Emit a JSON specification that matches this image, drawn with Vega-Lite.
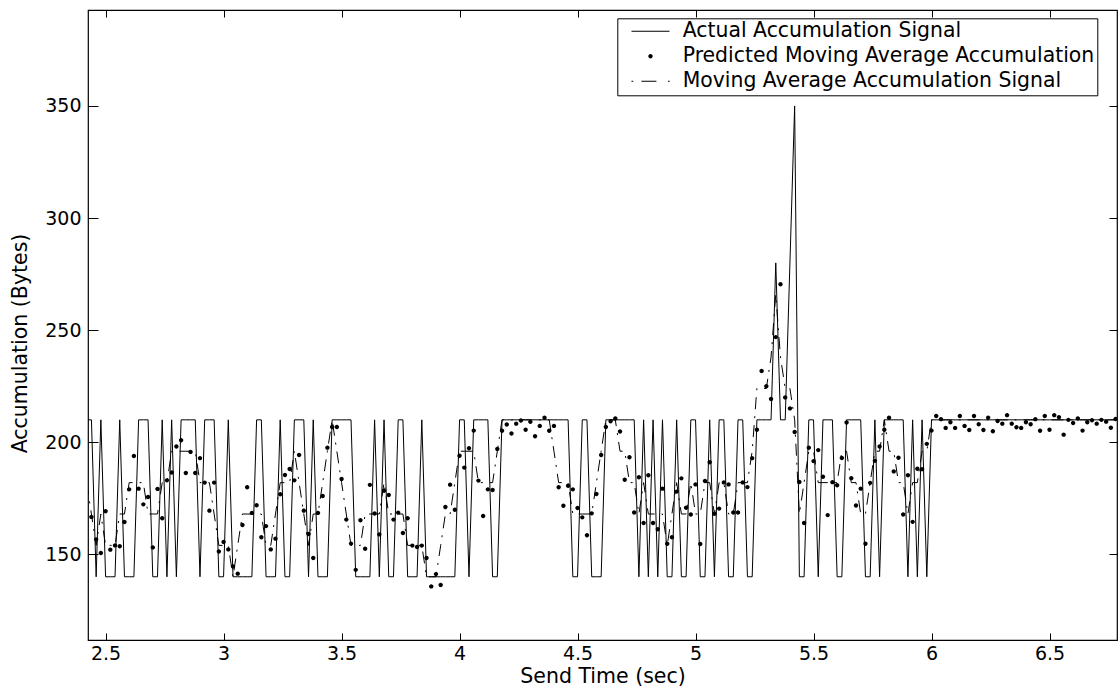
{
"$schema": "https://vega.github.io/schema/vega-lite/v6.json",
"width": 1029,
"height": 630,
"autosize": {"type": "none"},
"padding": {"left": 88, "top": 10, "right": 1, "bottom": 51},
"background": "white",
"config": {
  "view": {"stroke": "black", "strokeWidth": 1.2},
  "font": "DejaVu Sans",
  "axis": {"grid": false, "domain": false, "tickColor": "black", "tickWidth": 1, "labelColor": "black", "titleColor": "black", "labelFont": "DejaVu Sans", "titleFont": "DejaVu Sans", "labelFontSize": 19, "titleFontSize": 20.5, "titleFontWeight": "normal"}
},
"datasets": {
"actual": [
{"t":2.42,"v":210},{"t":2.44,"v":210},{"t":2.46,"v":140},{"t":2.48,"v":210},{"t":2.50,"v":140},{"t":2.52,"v":140},{"t":2.54,"v":140},{"t":2.56,"v":210},{"t":2.58,"v":140},{"t":2.60,"v":140},
{"t":2.62,"v":140},{"t":2.64,"v":210},{"t":2.66,"v":210},{"t":2.68,"v":210},{"t":2.70,"v":140},{"t":2.72,"v":140},{"t":2.74,"v":210},{"t":2.76,"v":140},{"t":2.78,"v":210},{"t":2.80,"v":140},
{"t":2.82,"v":210},{"t":2.84,"v":210},{"t":2.86,"v":210},{"t":2.88,"v":210},{"t":2.90,"v":140},{"t":2.92,"v":210},{"t":2.94,"v":210},{"t":2.96,"v":210},{"t":2.98,"v":140},{"t":3.00,"v":140},
{"t":3.02,"v":210},{"t":3.04,"v":140},{"t":3.06,"v":140},{"t":3.08,"v":140},{"t":3.10,"v":140},{"t":3.12,"v":140},{"t":3.14,"v":210},{"t":3.16,"v":210},{"t":3.18,"v":140},{"t":3.20,"v":140},
{"t":3.22,"v":140},{"t":3.24,"v":210},{"t":3.26,"v":140},{"t":3.28,"v":140},{"t":3.30,"v":210},{"t":3.32,"v":210},{"t":3.34,"v":210},{"t":3.36,"v":140},{"t":3.38,"v":210},{"t":3.40,"v":140},
{"t":3.42,"v":140},{"t":3.44,"v":140},{"t":3.46,"v":210},{"t":3.48,"v":210},{"t":3.50,"v":210},{"t":3.52,"v":210},{"t":3.54,"v":210},{"t":3.56,"v":140},{"t":3.58,"v":140},{"t":3.60,"v":140},
{"t":3.62,"v":140},{"t":3.64,"v":210},{"t":3.66,"v":140},{"t":3.68,"v":210},{"t":3.70,"v":140},{"t":3.72,"v":140},{"t":3.74,"v":210},{"t":3.76,"v":210},{"t":3.78,"v":140},{"t":3.80,"v":140},
{"t":3.82,"v":140},{"t":3.84,"v":210},{"t":3.86,"v":140},{"t":3.88,"v":140},{"t":3.90,"v":140},{"t":3.92,"v":140},{"t":3.94,"v":140},{"t":3.96,"v":140},{"t":3.98,"v":140},{"t":4.00,"v":210},
{"t":4.02,"v":210},{"t":4.04,"v":140},{"t":4.06,"v":210},{"t":4.08,"v":210},{"t":4.10,"v":210},{"t":4.12,"v":210},{"t":4.14,"v":140},{"t":4.16,"v":140},{"t":4.18,"v":210},{"t":4.20,"v":210},
{"t":4.22,"v":210},{"t":4.24,"v":210},{"t":4.26,"v":210},{"t":4.28,"v":210},{"t":4.30,"v":210},{"t":4.32,"v":210},{"t":4.34,"v":210},{"t":4.36,"v":210},{"t":4.38,"v":210},{"t":4.40,"v":210},
{"t":4.42,"v":210},{"t":4.44,"v":210},{"t":4.46,"v":210},{"t":4.48,"v":140},{"t":4.50,"v":140},{"t":4.52,"v":210},{"t":4.54,"v":210},{"t":4.56,"v":140},{"t":4.58,"v":140},{"t":4.60,"v":140},
{"t":4.62,"v":210},{"t":4.64,"v":210},{"t":4.66,"v":210},{"t":4.68,"v":210},{"t":4.70,"v":210},{"t":4.72,"v":210},{"t":4.74,"v":210},{"t":4.76,"v":140},{"t":4.78,"v":210},{"t":4.80,"v":140},
{"t":4.82,"v":210},{"t":4.84,"v":140},{"t":4.86,"v":210},{"t":4.88,"v":140},{"t":4.90,"v":140},{"t":4.92,"v":210},{"t":4.94,"v":140},{"t":4.96,"v":140},{"t":4.98,"v":210},{"t":5.00,"v":210},
{"t":5.02,"v":140},{"t":5.04,"v":140},{"t":5.06,"v":210},{"t":5.08,"v":140},{"t":5.10,"v":210},{"t":5.12,"v":210},{"t":5.14,"v":140},{"t":5.16,"v":140},{"t":5.18,"v":210},{"t":5.20,"v":210},
{"t":5.22,"v":140},{"t":5.24,"v":140},{"t":5.26,"v":210},{"t":5.28,"v":210},{"t":5.30,"v":210},{"t":5.32,"v":210},{"t":5.34,"v":280},{"t":5.36,"v":210},{"t":5.38,"v":210},{"t":5.40,"v":280},
{"t":5.42,"v":350},{"t":5.44,"v":140},{"t":5.46,"v":140},{"t":5.48,"v":210},{"t":5.50,"v":210},{"t":5.52,"v":140},{"t":5.54,"v":210},{"t":5.56,"v":210},{"t":5.58,"v":210},{"t":5.60,"v":140},
{"t":5.62,"v":140},{"t":5.64,"v":210},{"t":5.66,"v":210},{"t":5.68,"v":210},{"t":5.70,"v":210},{"t":5.72,"v":140},{"t":5.74,"v":140},{"t":5.76,"v":210},{"t":5.78,"v":140},{"t":5.80,"v":210},
{"t":5.82,"v":210},{"t":5.84,"v":210},{"t":5.86,"v":210},{"t":5.88,"v":210},{"t":5.90,"v":140},{"t":5.92,"v":210},{"t":5.94,"v":140},{"t":5.96,"v":210},{"t":5.98,"v":140},{"t":6.00,"v":210},
{"t":6.02,"v":210},{"t":6.04,"v":210},{"t":6.06,"v":210},{"t":6.08,"v":210},{"t":6.10,"v":210},{"t":6.12,"v":210},{"t":6.14,"v":210},{"t":6.16,"v":210},{"t":6.18,"v":210},{"t":6.20,"v":210},
{"t":6.22,"v":210},{"t":6.24,"v":210},{"t":6.26,"v":210},{"t":6.28,"v":210},{"t":6.30,"v":210},{"t":6.32,"v":210},{"t":6.34,"v":210},{"t":6.36,"v":210},{"t":6.38,"v":210},{"t":6.40,"v":210},
{"t":6.42,"v":210},{"t":6.44,"v":210},{"t":6.46,"v":210},{"t":6.48,"v":210},{"t":6.50,"v":210},{"t":6.52,"v":210},{"t":6.54,"v":210},{"t":6.56,"v":210},{"t":6.58,"v":210},{"t":6.60,"v":210},
{"t":6.62,"v":210},{"t":6.64,"v":210},{"t":6.66,"v":210},{"t":6.68,"v":210},{"t":6.70,"v":210},{"t":6.72,"v":210},{"t":6.74,"v":210},{"t":6.76,"v":210},{"t":6.78,"v":210},{"t":6.80,"v":210}
],
"predicted": [
{"s":"P","t":2.44,"v":166.7},{"s":"P","t":2.46,"v":156.7},{"s":"P","t":2.48,"v":150.6},{"s":"P","t":2.50,"v":169.2},{"s":"P","t":2.52,"v":152.1},{"s":"P","t":2.54,"v":154.0},{"s":"P","t":2.56,"v":153.6},{"s":"P","t":2.58,"v":164.4},{"s":"P","t":2.60,"v":179.0},{"s":"P","t":2.62,"v":193.9},
{"s":"P","t":2.64,"v":179.3},{"s":"P","t":2.66,"v":172.3},{"s":"P","t":2.68,"v":175.6},{"s":"P","t":2.70,"v":153.1},{"s":"P","t":2.72,"v":179.2},{"s":"P","t":2.74,"v":166.1},{"s":"P","t":2.76,"v":183.0},{"s":"P","t":2.78,"v":186.5},{"s":"P","t":2.80,"v":198.1},{"s":"P","t":2.82,"v":200.9},
{"s":"P","t":2.84,"v":186.3},{"s":"P","t":2.86,"v":195.7},{"s":"P","t":2.88,"v":186.3},{"s":"P","t":2.90,"v":192.9},{"s":"P","t":2.92,"v":182.0},{"s":"P","t":2.94,"v":169.5},{"s":"P","t":2.96,"v":182.0},{"s":"P","t":2.98,"v":151.3},{"s":"P","t":3.00,"v":155.5},{"s":"P","t":3.02,"v":152.2},
{"s":"P","t":3.04,"v":144.6},{"s":"P","t":3.06,"v":141.4},{"s":"P","t":3.08,"v":163.1},{"s":"P","t":3.10,"v":179.9},{"s":"P","t":3.12,"v":168.5},{"s":"P","t":3.14,"v":171.9},{"s":"P","t":3.16,"v":157.6},{"s":"P","t":3.18,"v":162.6},{"s":"P","t":3.20,"v":152.2},{"s":"P","t":3.22,"v":157.0},
{"s":"P","t":3.24,"v":176.8},{"s":"P","t":3.26,"v":185.4},{"s":"P","t":3.28,"v":188.1},{"s":"P","t":3.30,"v":183.0},{"s":"P","t":3.32,"v":194.3},{"s":"P","t":3.34,"v":169.5},{"s":"P","t":3.36,"v":159.1},{"s":"P","t":3.38,"v":148.4},{"s":"P","t":3.40,"v":168.5},{"s":"P","t":3.42,"v":176.0},
{"s":"P","t":3.44,"v":197.6},{"s":"P","t":3.46,"v":206.8},{"s":"P","t":3.48,"v":206.8},{"s":"P","t":3.50,"v":183.6},{"s":"P","t":3.52,"v":165.5},{"s":"P","t":3.54,"v":154.8},{"s":"P","t":3.56,"v":143.1},{"s":"P","t":3.58,"v":165.2},{"s":"P","t":3.60,"v":152.5},{"s":"P","t":3.62,"v":181.0},
{"s":"P","t":3.64,"v":168.2},{"s":"P","t":3.66,"v":158.9},{"s":"P","t":3.68,"v":178.4},{"s":"P","t":3.70,"v":176.5},{"s":"P","t":3.72,"v":165.5},{"s":"P","t":3.74,"v":168.6},{"s":"P","t":3.76,"v":159.5},{"s":"P","t":3.78,"v":166.1},{"s":"P","t":3.80,"v":153.9},{"s":"P","t":3.82,"v":153.3},
{"s":"P","t":3.84,"v":153.9},{"s":"P","t":3.86,"v":148.4},{"s":"P","t":3.88,"v":135.7},{"s":"P","t":3.90,"v":141.2},{"s":"P","t":3.92,"v":136.3},{"s":"P","t":3.94,"v":171.1},{"s":"P","t":3.96,"v":181.1},{"s":"P","t":3.98,"v":169.9},{"s":"P","t":4.00,"v":194.0},{"s":"P","t":4.02,"v":188.7},
{"s":"P","t":4.04,"v":197.3},{"s":"P","t":4.06,"v":205.2},{"s":"P","t":4.08,"v":182.9},{"s":"P","t":4.10,"v":167.1},{"s":"P","t":4.12,"v":179.0},{"s":"P","t":4.14,"v":178.7},{"s":"P","t":4.16,"v":197.0},{"s":"P","t":4.18,"v":205.1},{"s":"P","t":4.20,"v":207.9},{"s":"P","t":4.22,"v":203.9},
{"s":"P","t":4.24,"v":208.3},{"s":"P","t":4.26,"v":209.7},{"s":"P","t":4.28,"v":205.6},{"s":"P","t":4.30,"v":209.1},{"s":"P","t":4.32,"v":202.7},{"s":"P","t":4.34,"v":207.3},{"s":"P","t":4.36,"v":210.9},{"s":"P","t":4.38,"v":205.1},{"s":"P","t":4.40,"v":207.3},{"s":"P","t":4.42,"v":179.9},
{"s":"P","t":4.44,"v":171.7},{"s":"P","t":4.46,"v":180.6},{"s":"P","t":4.48,"v":179.0},{"s":"P","t":4.50,"v":170.7},{"s":"P","t":4.52,"v":166.5},{"s":"P","t":4.54,"v":158.5},{"s":"P","t":4.56,"v":168.3},{"s":"P","t":4.58,"v":176.9},{"s":"P","t":4.60,"v":194.3},{"s":"P","t":4.62,"v":206.8},
{"s":"P","t":4.64,"v":209.4},{"s":"P","t":4.66,"v":210.6},{"s":"P","t":4.68,"v":204.8},{"s":"P","t":4.70,"v":183.3},{"s":"P","t":4.72,"v":193.3},{"s":"P","t":4.74,"v":168.7},{"s":"P","t":4.76,"v":184.4},{"s":"P","t":4.78,"v":164.0},{"s":"P","t":4.80,"v":185.3},{"s":"P","t":4.82,"v":164.0},
{"s":"P","t":4.84,"v":161.2},{"s":"P","t":4.86,"v":179.3},{"s":"P","t":4.88,"v":154.7},{"s":"P","t":4.90,"v":157.6},{"s":"P","t":4.92,"v":178.0},{"s":"P","t":4.94,"v":183.9},{"s":"P","t":4.96,"v":170.8},{"s":"P","t":4.98,"v":167.8},{"s":"P","t":5.00,"v":181.2},{"s":"P","t":5.02,"v":154.6},
{"s":"P","t":5.04,"v":182.7},{"s":"P","t":5.06,"v":191.1},{"s":"P","t":5.08,"v":168.1},{"s":"P","t":5.10,"v":170.4},{"s":"P","t":5.12,"v":182.1},{"s":"P","t":5.14,"v":181.2},{"s":"P","t":5.16,"v":168.7},{"s":"P","t":5.18,"v":168.7},{"s":"P","t":5.20,"v":182.1},{"s":"P","t":5.22,"v":180.0},
{"s":"P","t":5.24,"v":192.9},{"s":"P","t":5.26,"v":205.6},{"s":"P","t":5.28,"v":231.8},{"s":"P","t":5.30,"v":225.0},{"s":"P","t":5.32,"v":219.3},{"s":"P","t":5.34,"v":246.9},{"s":"P","t":5.36,"v":270.5},{"s":"P","t":5.38,"v":220.0},{"s":"P","t":5.40,"v":215.1},{"s":"P","t":5.42,"v":204.6},
{"s":"P","t":5.44,"v":182.3},{"s":"P","t":5.46,"v":164.0},{"s":"P","t":5.48,"v":197.6},{"s":"P","t":5.50,"v":191.6},{"s":"P","t":5.52,"v":196.5},{"s":"P","t":5.54,"v":184.6},{"s":"P","t":5.56,"v":167.5},{"s":"P","t":5.58,"v":182.2},{"s":"P","t":5.60,"v":180.8},{"s":"P","t":5.62,"v":193.0},
{"s":"P","t":5.64,"v":208.8},{"s":"P","t":5.66,"v":184.0},{"s":"P","t":5.68,"v":171.8},{"s":"P","t":5.70,"v":179.3},{"s":"P","t":5.72,"v":154.7},{"s":"P","t":5.74,"v":181.9},{"s":"P","t":5.76,"v":191.7},{"s":"P","t":5.78,"v":198.1},{"s":"P","t":5.80,"v":205.6},{"s":"P","t":5.82,"v":210.9},
{"s":"P","t":5.84,"v":187.0},{"s":"P","t":5.86,"v":193.1},{"s":"P","t":5.88,"v":167.8},{"s":"P","t":5.90,"v":185.3},{"s":"P","t":5.92,"v":164.5},{"s":"P","t":5.94,"v":188.2},{"s":"P","t":5.96,"v":188.0},{"s":"P","t":5.98,"v":199.3},{"s":"P","t":6.00,"v":205.2},{"s":"P","t":6.02,"v":211.7},
{"s":"P","t":6.04,"v":210.3},{"s":"P","t":6.06,"v":206.4},{"s":"P","t":6.08,"v":208.9},{"s":"P","t":6.10,"v":206.4},{"s":"P","t":6.12,"v":211.7},{"s":"P","t":6.14,"v":207.3},{"s":"P","t":6.16,"v":205.5},{"s":"P","t":6.18,"v":211.7},{"s":"P","t":6.20,"v":208.0},{"s":"P","t":6.22,"v":205.5},
{"s":"P","t":6.24,"v":211.0},{"s":"P","t":6.26,"v":204.9},{"s":"P","t":6.28,"v":209.5},{"s":"P","t":6.30,"v":208.3},{"s":"P","t":6.32,"v":212.1},{"s":"P","t":6.34,"v":208.3},{"s":"P","t":6.36,"v":206.7},{"s":"P","t":6.38,"v":206.4},{"s":"P","t":6.40,"v":208.9},{"s":"P","t":6.42,"v":208.0},
{"s":"P","t":6.44,"v":210.3},{"s":"P","t":6.46,"v":205.1},{"s":"P","t":6.48,"v":211.7},{"s":"P","t":6.50,"v":205.6},{"s":"P","t":6.52,"v":212.1},{"s":"P","t":6.54,"v":211.2},{"s":"P","t":6.56,"v":203.4},{"s":"P","t":6.58,"v":210.0},{"s":"P","t":6.60,"v":208.6},{"s":"P","t":6.62,"v":210.6},
{"s":"P","t":6.64,"v":205.2},{"s":"P","t":6.66,"v":208.9},{"s":"P","t":6.68,"v":209.8},{"s":"P","t":6.70,"v":208.3},{"s":"P","t":6.72,"v":210.0},{"s":"P","t":6.74,"v":209.2},{"s":"P","t":6.76,"v":206.5},{"s":"P","t":6.78,"v":210.4}
],
"ma": [
{"t":2.42,"v":182},{"t":2.44,"v":168},{"t":2.46,"v":154},{"t":2.48,"v":168},{"t":2.50,"v":154},{"t":2.52,"v":154},{"t":2.54,"v":154},{"t":2.56,"v":168},{"t":2.58,"v":168},{"t":2.60,"v":182},
{"t":2.62,"v":182},{"t":2.64,"v":182},{"t":2.66,"v":182},{"t":2.68,"v":168},{"t":2.70,"v":168},{"t":2.72,"v":168},{"t":2.74,"v":182},{"t":2.76,"v":182},{"t":2.78,"v":196},{"t":2.80,"v":196},
{"t":2.82,"v":196},{"t":2.84,"v":196},{"t":2.86,"v":196},{"t":2.88,"v":196},{"t":2.90,"v":182},{"t":2.92,"v":182},{"t":2.94,"v":182},{"t":2.96,"v":168},{"t":2.98,"v":154},{"t":3.00,"v":154},
{"t":3.02,"v":154},{"t":3.04,"v":140},{"t":3.06,"v":154},{"t":3.08,"v":168},{"t":3.10,"v":168},{"t":3.12,"v":168},{"t":3.14,"v":168},{"t":3.16,"v":168},{"t":3.18,"v":154},{"t":3.20,"v":154},
{"t":3.22,"v":168},{"t":3.24,"v":182},{"t":3.26,"v":182},{"t":3.28,"v":182},{"t":3.30,"v":196},{"t":3.32,"v":182},{"t":3.34,"v":168},{"t":3.36,"v":154},{"t":3.38,"v":168},{"t":3.40,"v":168},
{"t":3.42,"v":182},{"t":3.44,"v":196},{"t":3.46,"v":210},{"t":3.48,"v":196},{"t":3.50,"v":182},{"t":3.52,"v":168},{"t":3.54,"v":154},{"t":3.56,"v":154},{"t":3.58,"v":154},{"t":3.60,"v":168},
{"t":3.62,"v":168},{"t":3.64,"v":168},{"t":3.66,"v":168},{"t":3.68,"v":182},{"t":3.70,"v":168},{"t":3.72,"v":168},{"t":3.74,"v":168},{"t":3.76,"v":168},{"t":3.78,"v":154},{"t":3.80,"v":154},
{"t":3.82,"v":154},{"t":3.84,"v":154},{"t":3.86,"v":140},{"t":3.88,"v":140},{"t":3.90,"v":140},{"t":3.92,"v":154},{"t":3.94,"v":168},{"t":3.96,"v":168},{"t":3.98,"v":182},{"t":4.00,"v":196},
{"t":4.02,"v":196},{"t":4.04,"v":196},{"t":4.06,"v":196},{"t":4.08,"v":182},{"t":4.10,"v":182},{"t":4.12,"v":182},{"t":4.14,"v":182},{"t":4.16,"v":196},{"t":4.18,"v":210},{"t":4.20,"v":210},
{"t":4.22,"v":210},{"t":4.24,"v":210},{"t":4.26,"v":210},{"t":4.28,"v":210},{"t":4.30,"v":210},{"t":4.32,"v":210},{"t":4.34,"v":210},{"t":4.36,"v":210},{"t":4.38,"v":210},{"t":4.40,"v":196},
{"t":4.42,"v":182},{"t":4.44,"v":182},{"t":4.46,"v":182},{"t":4.48,"v":168},{"t":4.50,"v":168},{"t":4.52,"v":168},{"t":4.54,"v":168},{"t":4.56,"v":168},{"t":4.58,"v":182},{"t":4.60,"v":196},
{"t":4.62,"v":210},{"t":4.64,"v":210},{"t":4.66,"v":210},{"t":4.68,"v":196},{"t":4.70,"v":196},{"t":4.72,"v":182},{"t":4.74,"v":182},{"t":4.76,"v":168},{"t":4.78,"v":182},{"t":4.80,"v":168},
{"t":4.82,"v":168},{"t":4.84,"v":168},{"t":4.86,"v":168},{"t":4.88,"v":154},{"t":4.90,"v":168},{"t":4.92,"v":182},{"t":4.94,"v":168},{"t":4.96,"v":168},{"t":4.98,"v":182},{"t":5.00,"v":168},
{"t":5.02,"v":168},{"t":5.04,"v":182},{"t":5.06,"v":182},{"t":5.08,"v":168},{"t":5.10,"v":182},{"t":5.12,"v":182},{"t":5.14,"v":168},{"t":5.16,"v":168},{"t":5.18,"v":182},{"t":5.20,"v":182},
{"t":5.22,"v":182},{"t":5.24,"v":196},{"t":5.26,"v":224},{"t":5.28,"v":224},{"t":5.30,"v":224},{"t":5.32,"v":238},{"t":5.34,"v":266},{"t":5.36,"v":238},{"t":5.38,"v":224},{"t":5.40,"v":224},
{"t":5.42,"v":210},{"t":5.44,"v":168},{"t":5.46,"v":182},{"t":5.48,"v":196},{"t":5.50,"v":196},{"t":5.52,"v":182},{"t":5.54,"v":182},{"t":5.56,"v":182},{"t":5.58,"v":182},{"t":5.60,"v":182},
{"t":5.62,"v":196},{"t":5.64,"v":196},{"t":5.66,"v":182},{"t":5.68,"v":182},{"t":5.70,"v":168},{"t":5.72,"v":168},{"t":5.74,"v":182},{"t":5.76,"v":196},{"t":5.78,"v":196},{"t":5.80,"v":210},
{"t":5.82,"v":196},{"t":5.84,"v":196},{"t":5.86,"v":182},{"t":5.88,"v":182},{"t":5.90,"v":168},{"t":5.92,"v":182},{"t":5.94,"v":182},{"t":5.96,"v":196},{"t":5.98,"v":196},{"t":6.00,"v":210},
{"t":6.02,"v":210},{"t":6.04,"v":210},{"t":6.06,"v":210},{"t":6.08,"v":210},{"t":6.10,"v":210},{"t":6.12,"v":210},{"t":6.14,"v":210},{"t":6.16,"v":210},{"t":6.18,"v":210},{"t":6.20,"v":210},
{"t":6.22,"v":210},{"t":6.24,"v":210},{"t":6.26,"v":210},{"t":6.28,"v":210},{"t":6.30,"v":210},{"t":6.32,"v":210},{"t":6.34,"v":210},{"t":6.36,"v":210},{"t":6.38,"v":210},{"t":6.40,"v":210},
{"t":6.42,"v":210},{"t":6.44,"v":210},{"t":6.46,"v":210},{"t":6.48,"v":210},{"t":6.50,"v":210},{"t":6.52,"v":210},{"t":6.54,"v":210},{"t":6.56,"v":210},{"t":6.58,"v":210},{"t":6.60,"v":210},
{"t":6.62,"v":210},{"t":6.64,"v":210},{"t":6.66,"v":210},{"t":6.68,"v":210},{"t":6.70,"v":210},{"t":6.72,"v":210},{"t":6.74,"v":210},{"t":6.76,"v":210},{"t":6.78,"v":210},{"t":6.80,"v":210}
]
},
"layer": [
  {
    "data": {"name": "actual"},
    "mark": {"type": "line", "color": "black", "strokeWidth": 1, "clip": true},
    "encoding": {
      "x": {"field": "t", "type": "quantitative", "scale": {"domain": [2.4255, 6.786], "nice": false, "zero": false},
            "axis": {"orient": "bottom", "offset": -7, "values": [2.5, 3, 3.5, 4, 4.5, 5, 5.5, 6, 6.5], "format": "~g", "tickSize": 7, "labelPadding": 4, "title": "Send Time (sec)", "titlePadding": 3}},
      "y": {"field": "v", "type": "quantitative", "scale": {"domain": [111.8, 392.8], "nice": false, "zero": false},
            "axis": {"orient": "left", "offset": -10, "values": [150, 200, 250, 300, 350], "format": "d", "tickSize": 10, "labelPadding": 7, "title": "Accumulation (Bytes)", "titlePadding": 14, "titleY": 333}}
    }
  },
  {
    "data": {"name": "predicted"},
    "mark": {"type": "point", "filled": true, "color": "black", "fill": "black", "strokeWidth": 0, "size": 400, "opacity": 1, "clip": true},
    "encoding": {
      "x": {"field": "t", "type": "quantitative", "scale": {"domain": [2.4255, 6.786], "nice": false, "zero": false}, "axis": null},
      "y": {"field": "v", "type": "quantitative", "scale": {"domain": [111.8, 392.8], "nice": false, "zero": false}, "axis": null},
      "shape": {"field": "s", "type": "nominal",
        "scale": {"domain": ["A", "P", "M"], "range": ["M-1.9,-0.05H1.9V0.05H-1.9Z", "M-0.22,0A0.22,0.22,0,1,0,0.22,0A0.22,0.22,0,1,0,-0.22,0Z", "M-1.9,-0.05H-1.72V0.05H-1.9ZM-0.91,-0.05H0.59V0.05H-0.91ZM1.74,-0.05H1.92V0.05H1.74Z"]},
        "legend": {"title": null, "orient": "none", "legendX": 529.3, "legendY": 8.3, "fillColor": "white", "strokeColor": "black", "padding": 3,
          "symbolSize": 400, "symbolOffset": 20, "labelOffset": 22, "labelFontSize": 20.4, "labelFont": "DejaVu Sans", "labelColor": "black",
          "rowPadding": 4, "clipHeight": 20, "symbolStrokeWidth": 0, "symbolFillColor": "black", "symbolOpacity": 1, "labelLimit": 0,
          "labelExpr": "datum.label == 'A' ? 'Actual Accumulation Signal' : datum.label == 'P' ? 'Predicted Moving Average Accumulation' : 'Moving Average Accumulation Signal'"}}
    }
  },
  {
    "data": {"name": "ma"},
    "mark": {"type": "line", "color": "black", "strokeWidth": 1, "strokeDash": [12, 7, 2, 7], "clip": true},
    "encoding": {
      "x": {"field": "t", "type": "quantitative", "scale": {"domain": [2.4255, 6.786], "nice": false, "zero": false},
            "axis": {"orient": "top", "offset": -7, "values": [2.5, 3, 3.5, 4, 4.5, 5, 5.5, 6, 6.5], "labels": false, "tickSize": 7, "title": null}},
      "y": {"field": "v", "type": "quantitative", "scale": {"domain": [111.8, 392.8], "nice": false, "zero": false},
            "axis": {"orient": "right", "offset": -8, "values": [150, 200, 250, 300, 350], "labels": false, "tickSize": 8, "title": null}}
    }
  }
],
"resolve": {"axis": {"x": "independent", "y": "independent"}}
}
